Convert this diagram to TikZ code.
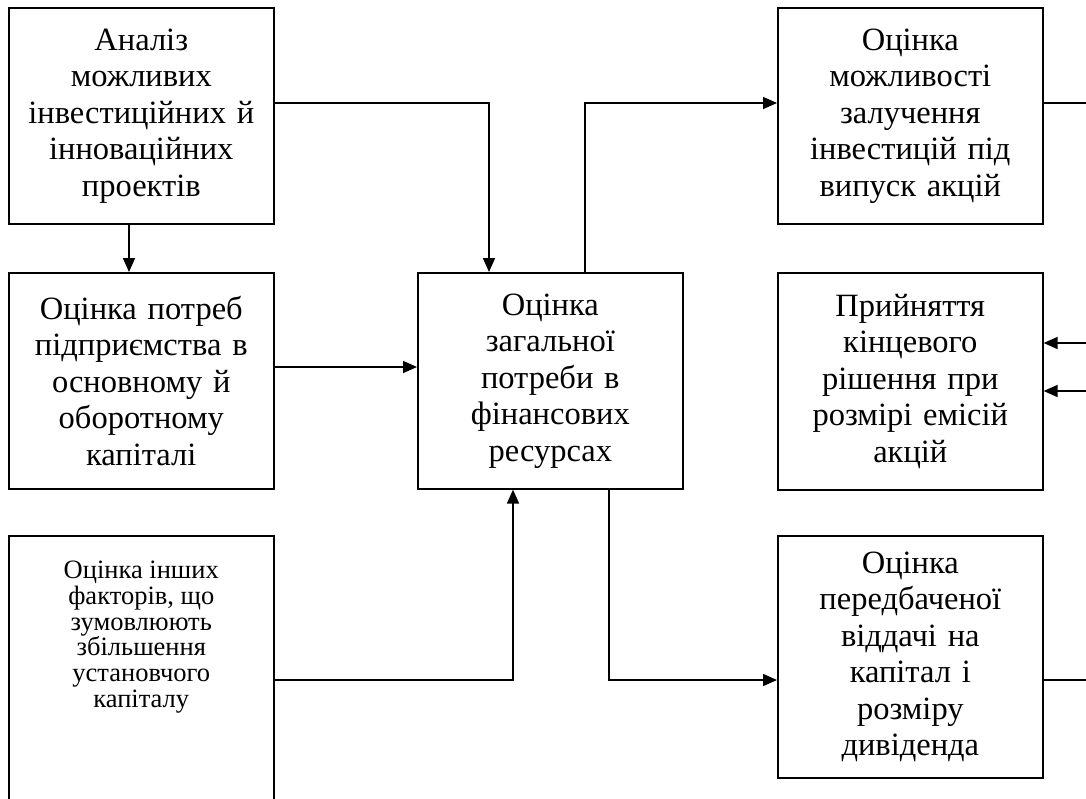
\documentclass[tikz,border=0pt]{standalone}
\usepackage{fontspec}
\setmainfont{Liberation Serif}
\usetikzlibrary{arrows.meta,calc}
\tikzset{
  box/.style={draw, line width=1.6pt, anchor=north west, minimum width=265pt, inner sep=0pt, align=center, text width=262pt, font=\fontsize{32.5}{36.5}\selectfont},
  arr/.style={line width=1.6pt, -{Triangle[length=14pt,width=12pt]}},
  ln/.style={line width=1.6pt},
}
\begin{document}
\begin{tikzpicture}[x=1pt,y=-1pt]
\useasboundingbox (0,0) rectangle (1086,798);
\clip (0,0) rectangle (1086,798);
\node[box, minimum height=216pt] (A) at (8,7) {Аналіз\\можливих\\інвестиційних й\\інноваційних\\проектів};
\node[box, minimum height=216pt] (B) at (8,272) {Оцінка потреб\\підприємства в\\основному й\\оборотному\\капіталі};
\node[box, minimum height=216pt] (C) at (417,272) {Оцінка\\загальної\\потреби в\\фінансових\\ресурсах};
\node[box, minimum height=216pt] (D) at (777,7) {Оцінка\\можливості\\залучення\\інвестицій під\\випуск акцій};
\node[box, minimum height=217pt] (E) at (777,272) {Прийняття\\кінцевого\\рішення при\\розмірі емісій\\акцій};
\node[box, minimum height=242pt] (F) at (777,535) {Оцінка\\передбаченої\\віддачі на\\капітал і\\розміру\\дивіденда};
\node[box, minimum height=280pt] (G) at (8,535) {};
\node[anchor=north, align=center, inner sep=0pt, font=\fontsize{26.5}{25.7}\selectfont] (Gt) at ($(G.north)+(0,26)$) {Оцінка інших\\факторів, що\\зумовлюють\\збільшення\\установчого\\капіталу};
\coordinate (j1) at (489,103);
\coordinate (j2) at (585,103);
\coordinate (j3) at (129,0);
\coordinate (j4) at (0,367);
\coordinate (j5) at (513,680);
\coordinate (j6) at (609,680);
\coordinate (r1) at (1086,103);
\coordinate (r2) at (1086,343);
\coordinate (r3) at (1086,391);
\coordinate (r4) at (1086,680);
\draw[arr] (A.east |- j1) -- (j1) -- (j1 |- C.north);
\draw[arr] (C.north -| j2) -- (j2) -- (j2 -| D.west);
\draw[arr] (A.south -| j3) -- (B.north -| j3);
\draw[arr] (B.east |- j4) -- (C.west |- j4);
\draw[arr] (G.east |- j5) -- (j5) -- (j5 |- C.south);
\draw[arr] (C.south -| j6) -- (j6) -- (j6 -| F.west);
\draw[ln] (D.east |- r1) -- (r1);
\draw[arr] (r2) -- (E.east |- r2);
\draw[arr] (r3) -- (E.east |- r3);
\draw[ln] (F.east |- r4) -- (r4);
\end{tikzpicture}
\end{document}
